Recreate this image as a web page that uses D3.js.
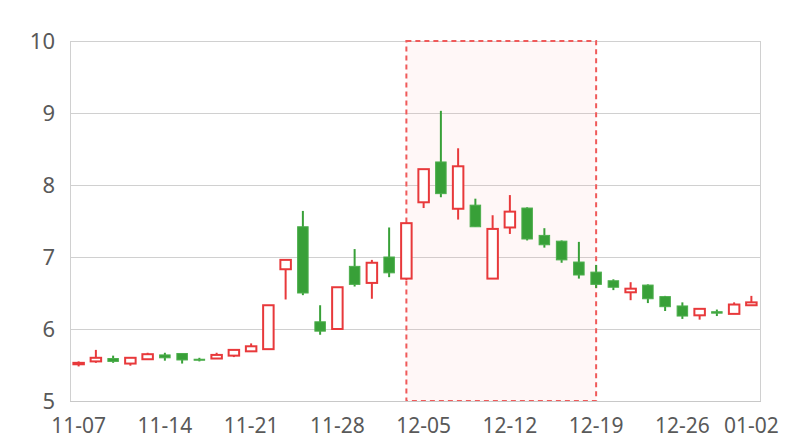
<!DOCTYPE html>
<html>
<head>
<meta charset="utf-8">
<script src="https://cdn.jsdelivr.net/npm/d3@7"></script>
<style>
  html, body { margin: 0; padding: 0; background: #fff; }
  svg { display: block; }
</style>
</head>
<body>
<svg id="chart" width="800" height="440"></svg>
<script>
// ---- data ----
const dates = [
  "11-07","11-08","11-09","11-10","11-11",
  "11-14","11-15","11-16","11-17","11-18",
  "11-21","11-22","11-23","11-24","11-25",
  "11-28","11-29","11-30","12-01","12-02",
  "12-05","12-06","12-07","12-08","12-09",
  "12-12","12-13","12-14","12-15","12-16",
  "12-19","12-20","12-21","12-22","12-23",
  "12-26","12-27","12-28","12-29",
  "01-02"
];
const openVals  = [5.51,5.55,5.59,5.52,5.58,5.64,5.66,5.58,5.59,5.63,
                   5.69,5.72,6.83,7.42,6.10,6.00,6.87,6.64,7.00,6.70,
                   7.76,8.32,7.67,7.72,6.70,7.41,7.68,7.30,7.22,6.93,
                   6.79,6.67,6.51,6.61,6.45,6.32,6.19,6.24,6.21,6.33];
const closeVals = [5.53,5.60,5.55,5.60,5.65,5.60,5.57,5.57,5.64,5.71,
                   5.76,6.33,6.96,6.50,5.97,6.58,6.62,6.92,6.78,7.47,
                   8.22,7.88,8.26,7.42,7.39,7.63,7.25,7.17,6.96,6.75,
                   6.62,6.58,6.56,6.42,6.31,6.18,6.28,6.22,6.34,6.37];
const lowVals   = [5.48,5.53,5.53,5.49,5.58,5.56,5.52,5.55,5.59,5.61,
                   5.69,5.72,6.41,6.47,5.92,6.00,6.59,6.42,6.72,6.68,
                   7.68,7.83,7.52,7.42,6.70,7.32,7.23,7.13,6.92,6.70,
                   6.57,6.54,6.40,6.36,6.25,6.14,6.13,6.18,6.21,6.33];
const highVals  = [5.55,5.71,5.63,5.61,5.67,5.67,5.66,5.60,5.67,5.72,
                   5.80,6.33,6.97,7.64,6.33,6.58,7.11,6.96,7.41,7.48,
                   8.22,9.03,8.51,7.81,7.58,7.86,7.69,7.40,7.23,7.21,
                   6.89,6.69,6.65,6.62,6.46,6.37,6.28,6.27,6.37,6.46];
const xTickLabels = ["11-07","11-14","11-21","11-28","12-05","12-12","12-19","12-26","01-02"];
const yTickValues = [5,6,7,8,9,10];
const markAreaRange = ["12-02","12-19"];

// ---- layout ----
const mLeft = 70, mRight = 760, mTop = 41, mBottom = 401;
const upColor = "#e8393b", downColor = "#38a038";

const svg = d3.select("#chart");
const x = d3.scaleBand().domain(dates).range([mLeft, mRight]).padding(0);
const y = d3.scaleLinear().domain([5, 10]).range([mBottom, mTop]);
const cx = d => x(d) + x.bandwidth() / 2;
const bodyW = 10.5;

const data = dates.map((d, i) => ({
  date: d, open: openVals[i], close: closeVals[i], low: lowVals[i], high: highVals[i]
}));

// gridlines
svg.append("g").selectAll("line").data(yTickValues).join("line")
  .attr("x1", mLeft).attr("x2", mRight)
  .attr("y1", d => Math.round(y(d)) + 0.5).attr("y2", d => Math.round(y(d)) + 0.5)
  .attr("stroke", "#d0d0d0").attr("stroke-width", 1);
// left & right borders
svg.append("line").attr("x1", mLeft + 0.5).attr("x2", mLeft + 0.5).attr("y1", mTop).attr("y2", mBottom)
  .attr("stroke", "#d0d0d0");
svg.append("line").attr("x1", mRight + 0.5).attr("x2", mRight + 0.5).attr("y1", mTop).attr("y2", mBottom)
  .attr("stroke", "#d0d0d0");

// mark area
const ax0 = cx(markAreaRange[0]), ax1 = cx(markAreaRange[1]);
svg.append("rect")
  .attr("x", ax0).attr("y", y(10)).attr("width", ax1 - ax0).attr("height", y(5) - y(10))
  .attr("fill", "rgba(255,180,180,0.1)")
  .attr("stroke", "#f05a5a").attr("stroke-width", 2).attr("stroke-dasharray", "5,4");

// candles
const g = svg.append("g");
const candle = g.selectAll("g").data(data).join("g");
candle.append("line")
  .attr("x1", d => cx(d.date)).attr("x2", d => cx(d.date))
  .attr("y1", d => y(d.high)).attr("y2", d => y(d.low))
  .attr("stroke", d => d.close >= d.open ? upColor : downColor)
  .attr("stroke-width", 2);
candle.append("rect")
  .attr("x", d => cx(d.date) - bodyW / 2)
  .attr("width", bodyW)
  .attr("y", d => y(Math.max(d.open, d.close)))
  .attr("height", d => Math.max(1, Math.abs(y(d.open) - y(d.close))))
  .attr("fill", d => d.close >= d.open ? "#ffffff" : downColor)
  .attr("stroke", d => d.close >= d.open ? upColor : "#4cae4c")
  .attr("stroke-width", d => d.close >= d.open ? 2 : 1);

// axes
const fontFam = "'Noto Sans', 'Liberation Sans', sans-serif";
const yAxis = svg.append("g").attr("transform", `translate(${mLeft},0)`)
  .call(d3.axisLeft(y).tickValues(yTickValues).tickSize(0).tickPadding(15).tickFormat(d3.format("d")));
yAxis.select(".domain").remove();
yAxis.selectAll("text").attr("fill", "#595959").attr("font-size", 22).attr("font-family", fontFam);

const xAxis = svg.append("g").attr("transform", `translate(0,${mBottom})`)
  .call(d3.axisBottom(x).tickValues(xTickLabels).tickSize(0).tickPadding(17));
xAxis.select(".domain").attr("stroke", "#c8c8c8").attr("d", `M${mLeft},0.5H${mRight + 1}`);
xAxis.selectAll("text").attr("fill", "#595959").attr("font-size", 21).attr("font-family", fontFam);
</script>
</body>
</html>
